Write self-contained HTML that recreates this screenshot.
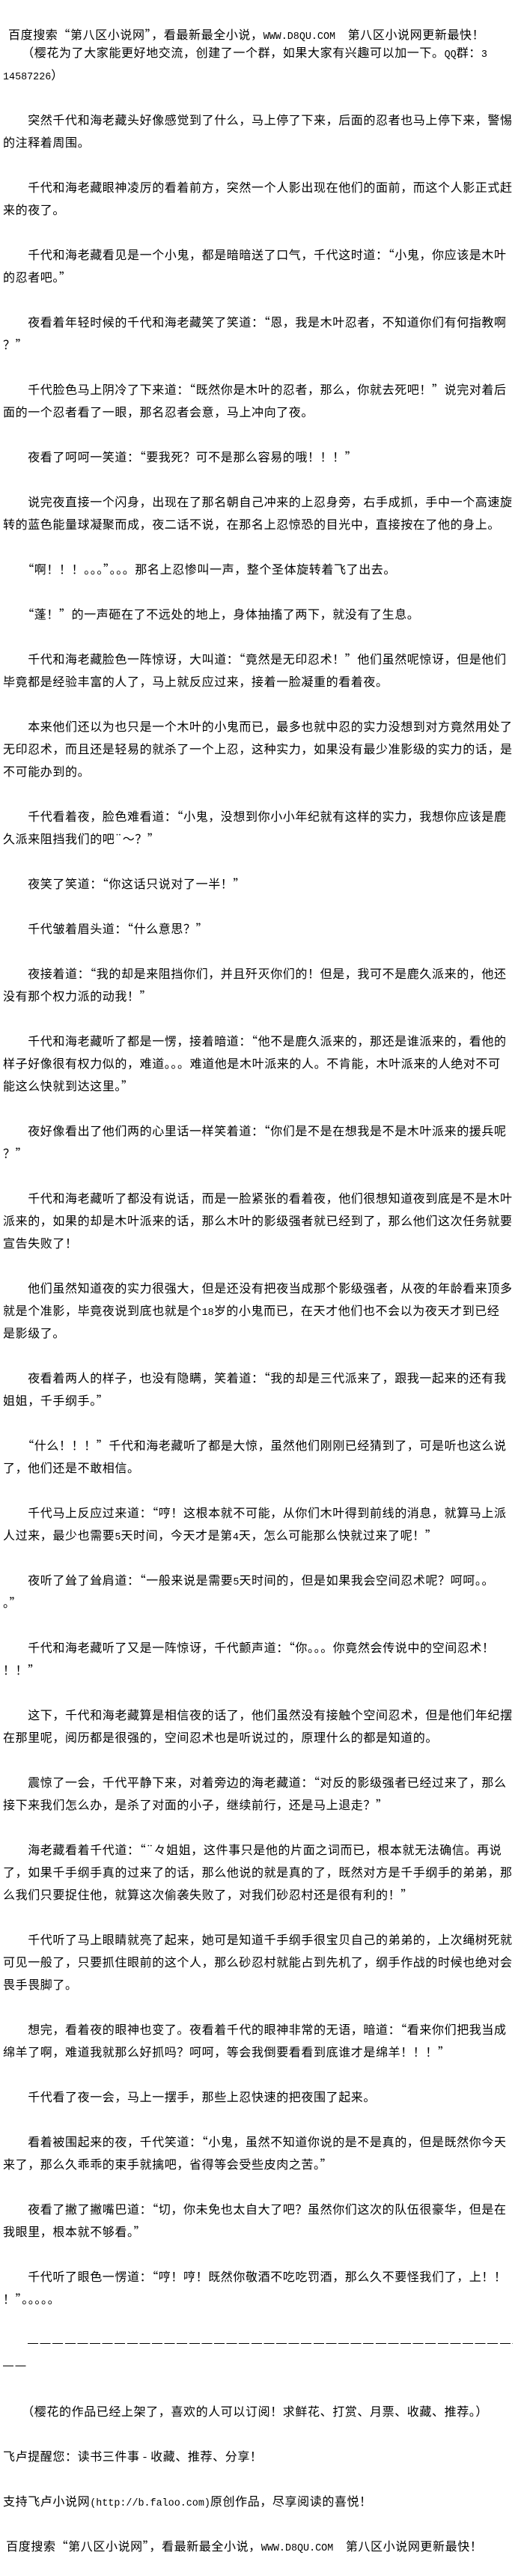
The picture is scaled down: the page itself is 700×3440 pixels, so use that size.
<!DOCTYPE html>
<html><head><meta charset="utf-8">
<style>
html,body{margin:0;padding:0;background:#fff;}
body{width:700px;height:3440px;position:relative;overflow:hidden;color:#000;
font-family:"Noto Sans CJK SC","WenQuanYi Zen Hei","Liberation Sans",sans-serif;font-size:16px;letter-spacing:0.6px;}
#h1{position:absolute;left:11px;top:33px;line-height:24px;white-space:nowrap;}
#c{position:absolute;left:4px;top:54px;width:690px;}
.l{height:30px;line-height:30px;white-space:nowrap;}
.m{font-family:"Liberation Mono",monospace;font-size:13.4px;letter-spacing:0;}
.d{height:30px;position:relative;}
.d i{position:absolute;top:15px;height:1px;background:repeating-linear-gradient(90deg,#000 0,#000 14px,transparent 14px,transparent 16.6px);}
</style></head><body>
<div id="h1">百度搜索“第八区小说网”，看最新最全小说，<span class="m">WWW.D8QU.COM</span>　第八区小说网更新最快！</div>
<div id="c">
<div class="l">　　（樱花为了大家能更好地交流，创建了一个群，如果大家有兴趣可以加一下。<span class="m">QQ</span>群：<span class="m">3</span></div>
<div class="l"><span class="m">14587226</span>）</div>
<div class="l"></div>
<div class="l">　　突然千代和海老藏头好像感觉到了什么，马上停了下来，后面的忍者也马上停下来，警惕</div>
<div class="l">的注释着周围。</div>
<div class="l"></div>
<div class="l">　　千代和海老藏眼神凌厉的看着前方，突然一个人影出现在他们的面前，而这个人影正式赶</div>
<div class="l">来的夜了。</div>
<div class="l"></div>
<div class="l">　　千代和海老藏看见是一个小鬼，都是暗暗送了口气，千代这时道：“小鬼，你应该是木叶</div>
<div class="l">的忍者吧。”</div>
<div class="l"></div>
<div class="l">　　夜看着年轻时候的千代和海老藏笑了笑道：“恩，我是木叶忍者，不知道你们有何指教啊</div>
<div class="l">？”</div>
<div class="l"></div>
<div class="l">　　千代脸色马上阴冷了下来道：“既然你是木叶的忍者，那么，你就去死吧！”说完对着后</div>
<div class="l">面的一个忍者看了一眼，那名忍者会意，马上冲向了夜。</div>
<div class="l"></div>
<div class="l">　　夜看了呵呵一笑道：“要我死？可不是那么容易的哦！！！”</div>
<div class="l"></div>
<div class="l">　　说完夜直接一个闪身，出现在了那名朝自己冲来的上忍身旁，右手成抓，手中一个高速旋</div>
<div class="l">转的蓝色能量球凝聚而成，夜二话不说，在那名上忍惊恐的目光中，直接按在了他的身上。</div>
<div class="l"></div>
<div class="l">　　“啊！！！。。。”。。。那名上忍惨叫一声，整个圣体旋转着飞了出去。</div>
<div class="l"></div>
<div class="l">　　“蓬！”的一声砸在了不远处的地上，身体抽搐了两下，就没有了生息。</div>
<div class="l"></div>
<div class="l">　　千代和海老藏脸色一阵惊讶，大叫道：“竟然是无印忍术！”他们虽然呢惊讶，但是他们</div>
<div class="l">毕竟都是经验丰富的人了，马上就反应过来，接着一脸凝重的看着夜。</div>
<div class="l"></div>
<div class="l">　　本来他们还以为也只是一个木叶的小鬼而已，最多也就中忍的实力没想到对方竟然用处了</div>
<div class="l">无印忍术，而且还是轻易的就杀了一个上忍，这种实力，如果没有最少准影级的实力的话，是</div>
<div class="l">不可能办到的。</div>
<div class="l"></div>
<div class="l">　　千代看着夜，脸色难看道：“小鬼，没想到你小小年纪就有这样的实力，我想你应该是鹿</div>
<div class="l">久派来阻挡我们的吧¨～？”</div>
<div class="l"></div>
<div class="l">　　夜笑了笑道：“你这话只说对了一半！”</div>
<div class="l"></div>
<div class="l">　　千代皱着眉头道：“什么意思？”</div>
<div class="l"></div>
<div class="l">　　夜接着道：“我的却是来阻挡你们，并且歼灭你们的！但是，我可不是鹿久派来的，他还</div>
<div class="l">没有那个权力派的动我！”</div>
<div class="l"></div>
<div class="l">　　千代和海老藏听了都是一愣，接着暗道：“他不是鹿久派来的，那还是谁派来的，看他的</div>
<div class="l">样子好像很有权力似的，难道。。。难道他是木叶派来的人。不肯能，木叶派来的人绝对不可</div>
<div class="l">能这么快就到达这里。”</div>
<div class="l"></div>
<div class="l">　　夜好像看出了他们两的心里话一样笑着道：“你们是不是在想我是不是木叶派来的援兵呢</div>
<div class="l">？”</div>
<div class="l"></div>
<div class="l">　　千代和海老藏听了都没有说话，而是一脸紧张的看着夜，他们很想知道夜到底是不是木叶</div>
<div class="l">派来的，如果的却是木叶派来的话，那么木叶的影级强者就已经到了，那么他们这次任务就要</div>
<div class="l">宣告失败了！</div>
<div class="l"></div>
<div class="l">　　他们虽然知道夜的实力很强大，但是还没有把夜当成那个影级强者，从夜的年龄看来顶多</div>
<div class="l">就是个准影，毕竟夜说到底也就是个<span class="m">18</span>岁的小鬼而已，在天才他们也不会以为夜天才到已经</div>
<div class="l">是影级了。</div>
<div class="l"></div>
<div class="l">　　夜看着两人的样子，也没有隐瞒，笑着道：“我的却是三代派来了，跟我一起来的还有我</div>
<div class="l">姐姐，千手纲手。”</div>
<div class="l"></div>
<div class="l">　　“什么！！！”千代和海老藏听了都是大惊，虽然他们刚刚已经猜到了，可是听也这么说</div>
<div class="l">了，他们还是不敢相信。</div>
<div class="l"></div>
<div class="l">　　千代马上反应过来道：“哼！这根本就不可能，从你们木叶得到前线的消息，就算马上派</div>
<div class="l">人过来，最少也需要<span class="m">5</span>天时间，今天才是第<span class="m">4</span>天，怎么可能那么快就过来了呢！”</div>
<div class="l"></div>
<div class="l">　　夜听了耸了耸肩道：“一般来说是需要<span class="m">5</span>天时间的，但是如果我会空间忍术呢？呵呵。。</div>
<div class="l">。”</div>
<div class="l"></div>
<div class="l">　　千代和海老藏听了又是一阵惊讶，千代颤声道：“你。。。你竟然会传说中的空间忍术！</div>
<div class="l">！！”</div>
<div class="l"></div>
<div class="l">　　这下，千代和海老藏算是相信夜的话了，他们虽然没有接触个空间忍术，但是他们年纪摆</div>
<div class="l">在那里呢，阅历都是很强的，空间忍术也是听说过的，原理什么的都是知道的。</div>
<div class="l"></div>
<div class="l">　　震惊了一会，千代平静下来，对着旁边的海老藏道：“对反的影级强者已经过来了，那么</div>
<div class="l">接下来我们怎么办，是杀了对面的小子，继续前行，还是马上退走？”</div>
<div class="l"></div>
<div class="l">　　海老藏看着千代道：“¨々姐姐，这件事只是他的片面之词而已，根本就无法确信。再说</div>
<div class="l">了，如果千手纲手真的过来了的话，那么他说的就是真的了，既然对方是千手纲手的弟弟，那</div>
<div class="l">么我们只要捉住他，就算这次偷袭失败了，对我们砂忍村还是很有利的！”</div>
<div class="l"></div>
<div class="l">　　千代听了马上眼睛就亮了起来，她可是知道千手纲手很宝贝自己的弟弟的，上次绳树死就</div>
<div class="l">可见一般了，只要抓住眼前的这个人，那么砂忍村就能占到先机了，纲手作战的时候也绝对会</div>
<div class="l">畏手畏脚了。</div>
<div class="l"></div>
<div class="l">　　想完，看着夜的眼神也变了。夜看着千代的眼神非常的无语，暗道：“看来你们把我当成</div>
<div class="l">绵羊了啊，难道我就那么好抓吗？呵呵，等会我倒要看看到底谁才是绵羊！！！”</div>
<div class="l"></div>
<div class="l">　　千代看了夜一会，马上一摆手，那些上忍快速的把夜围了起来。</div>
<div class="l"></div>
<div class="l">　　看着被围起来的夜，千代笑道：“小鬼，虽然不知道你说的是不是真的，但是既然你今天</div>
<div class="l">来了，那么久乖乖的束手就擒吧，省得等会受些皮肉之苦。”</div>
<div class="l"></div>
<div class="l">　　夜看了撇了撇嘴巴道：“切，你未免也太自大了吧？虽然你们这次的队伍很豪华，但是在</div>
<div class="l">我眼里，根本就不够看。”</div>
<div class="l"></div>
<div class="l">　　千代听了眼色一愣道：“哼！哼！既然你敬酒不吃吃罚酒，那么久不要怪我们了，上！！</div>
<div class="l">！”。。。。。</div>
<div class="l"></div>
<div class="d"><i style="left:33px;width:648px"></i></div>
<div class="d"><i style="left:0;width:32px"></i></div>
<div class="l"></div>
<div class="l">　　（樱花的作品已经上架了，喜欢的人可以订阅！求鲜花、打赏、月票、收藏、推荐。）</div>
<div class="l"></div>
<div class="l">飞卢提醒您：读书三件事 - 收藏、推荐、分享！</div>
<div class="l"></div>
<div class="l">支持飞卢小说网<span class="m">(http://b.faloo.com)</span>原创作品，尽享阅读的喜悦！</div>
<div class="l"></div>
<div class="l">&nbsp;百度搜索“第八区小说网”，看最新最全小说，<span class="m">WWW.D8QU.COM</span>　第八区小说网更新最快！</div>
</div>
</body></html>
